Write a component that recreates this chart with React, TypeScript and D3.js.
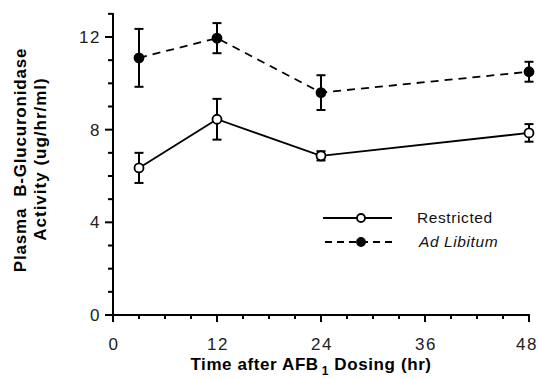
import * as d3 from 'd3'

// time points (hr)
const hours = [3, 12, 24, 48]
const restricted = [6.35, 8.45, 6.87, 7.86]
const restrictedErr = [0.65, 0.88, 0.2, 0.38]
const adLibitum = [11.1, 11.95, 9.6, 10.5]
const adLibitumErr = [1.25, 0.65, 0.75, 0.43]
const xTicks = [0, 12, 24, 36, 48]
const yTicks = [0, 4, 8, 12]

const font = '"Liberation Sans", Arial, Helvetica, sans-serif'

const x = d3.scaleLinear().domain([0, 48]).range([113, 529])
const y = d3.scaleLinear().domain([0, 12]).range([315, 37])

const Series = ({ values, errs, filled, dashed }) => {
  const line = d3
    .line<number>()
    .x((_, i) => x(hours[i]))
    .y(d => y(d))
  return (
    <g>
      <path d={line(values) || ''} fill="none" stroke="#000" strokeWidth={1.8} strokeDasharray={dashed ? '8,6' : undefined} />
      {values.map((v, i) => (
        <g key={i} stroke="#000" strokeWidth={2}>
          <line x1={x(hours[i])} x2={x(hours[i])} y1={y(v - errs[i])} y2={y(v + errs[i])} />
          <line x1={x(hours[i]) - 4.5} x2={x(hours[i]) + 4.5} y1={y(v - errs[i])} y2={y(v - errs[i])} />
          <line x1={x(hours[i]) - 4.5} x2={x(hours[i]) + 4.5} y1={y(v + errs[i])} y2={y(v + errs[i])} />
          <circle cx={x(hours[i])} cy={y(v)} r={4.5} fill={filled ? '#000' : '#fff'} strokeWidth={1.8} />
        </g>
      ))}
    </g>
  )
}

export default function App() {
  const minorX = d3.range(0, 49, 3)
  const minorY = d3.range(0, 14, 1)
  return (
    <svg width={538} height={379} style={{ position: 'absolute', left: 0, top: 0, background: '#fff' }}>
      {/* axes */}
      <g stroke="#000" strokeWidth={2}>
        <line x1={113} x2={113} y1={13} y2={316} />
        <line x1={112} x2={530} y1={315} y2={315} />
        {minorX.map(t => (
          <line key={'mx' + t} x1={x(t)} x2={x(t)} y1={315} y2={xTicks.includes(t) ? 322 : 319} />
        ))}
        {minorY.map(t => (
          <line key={'my' + t} x1={yTicks.includes(t) ? 105 : 108} x2={113} y1={y(t)} y2={y(t)} />
        ))}
      </g>
      <g fontFamily={font} fontSize={17} fill="#222" letterSpacing={1.5}>
        {xTicks.map(t => (
          <text key={'xt' + t} x={Math.min(x(t) + 1, 527)} y={350} textAnchor="middle">{t}</text>
        ))}
        {yTicks.map(t => (
          <text key={'yt' + t} x={101} y={y(t) + 6} textAnchor="end">{t}</text>
        ))}
      </g>

      <Series values={adLibitum} errs={adLibitumErr} filled dashed />
      <Series values={restricted} errs={restrictedErr} filled={false} dashed={false} />

      {/* legend */}
      <g stroke="#000" strokeWidth={1.8}>
        <line x1={323} x2={392} y1={218} y2={218} />
        <circle cx={361} cy={218} r={4} fill="#fff" />
        <line x1={325} x2={392} y1={242} y2={242} strokeDasharray="7,5" />
        <circle cx={361} cy={242} r={4} fill="#000" />
      </g>
      <g fontFamily={font} fontSize={15.5} fill="#111" letterSpacing={0.6}>
        <text x={417} y={223}>Restricted</text>
        <text x={419} y={247} fontStyle="italic">Ad Libitum</text>
      </g>

      {/* axis titles */}
      <g fontFamily={font} fontSize={17} fontWeight="bold" fill="#000">
        <text x={311} y={370} textAnchor="middle" letterSpacing={0.6}>
          Time after AFB<tspan fontSize={12} dx={3} dy={5}>1</tspan>
          <tspan dy={-5}>{'\u00a0Dosing (hr)'}</tspan>
        </text>
        <text transform="translate(26,160) rotate(-90)" textAnchor="middle" letterSpacing={0.8}>
          {'Plasma\u00a0\u00a0B-Glucuronidase'}
        </text>
        <text transform="translate(46,159) rotate(-90)" textAnchor="middle" letterSpacing={1}>
          {'Activity (ug/hr/ml)'}
        </text>
      </g>
    </svg>
  )
}
